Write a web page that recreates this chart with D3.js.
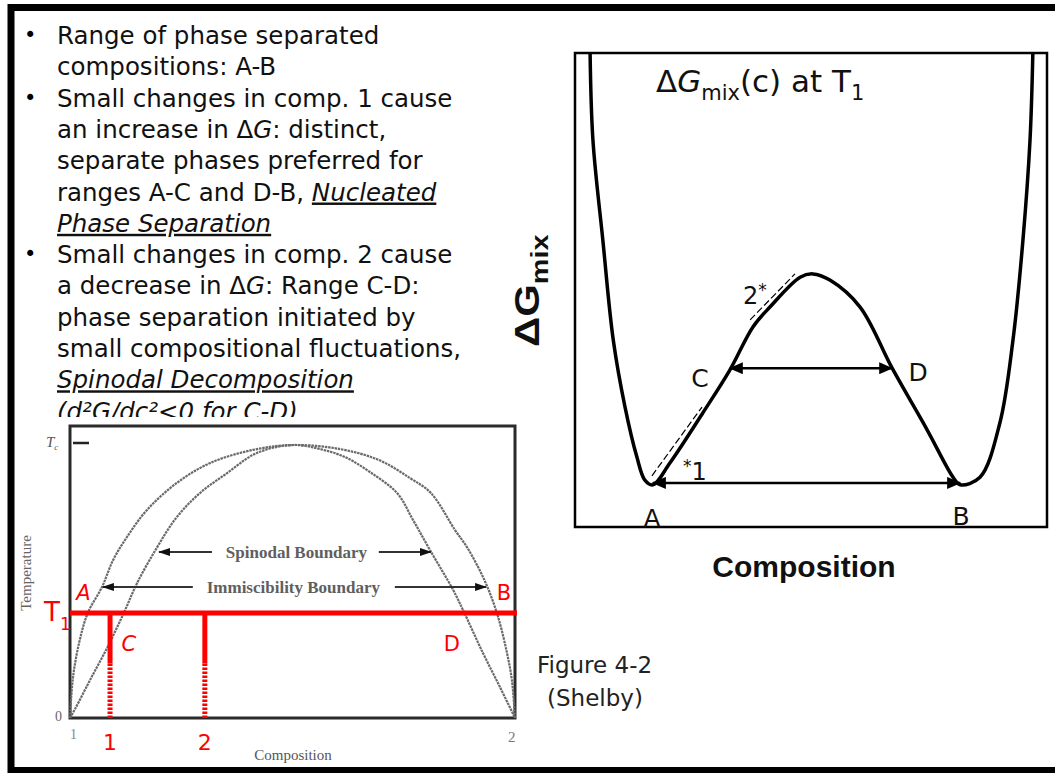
<!DOCTYPE html>
<html>
<head>
<meta charset="utf-8">
<script src="https://cdn.jsdelivr.net/npm/d3@7"></script>
<style>
  body { margin: 0; background: #fff; }
  svg { display: block; }
  .comic { font-family: 'Comic Sans MS', 'DejaVu Sans', sans-serif; }
  .serif { font-family: 'Liberation Serif', 'DejaVu Serif', serif; }
  .arial { font-family: 'Liberation Sans', Arial, sans-serif; }
</style>
</head>
<body>
<svg id="chart"></svg>
<script>
// ---- bullet text (segments: [text, style]) ----
const bulletLines = [
  { bullet: true,  parts: [["Range of phase separated", ""]] },
  { bullet: false, parts: [["compositions: A-B", ""]] },
  { bullet: true,  parts: [["Small changes in comp. 1 cause", ""]] },
  { bullet: false, parts: [["an increase in \u0394", ""], ["G", "i"], [": distinct,", ""]] },
  { bullet: false, parts: [["separate phases preferred for", ""]] },
  { bullet: false, parts: [["ranges A-C and D-B, ", ""], ["Nucleated", "iu"]] },
  { bullet: false, parts: [["Phase Separation", "iu"]] },
  { bullet: true,  parts: [["Small changes in comp. 2 cause", ""]] },
  { bullet: false, parts: [["a decrease in \u0394", ""], ["G", "i"], [": Range C-D:", ""]] },
  { bullet: false, parts: [["phase separation initiated by", ""]] },
  { bullet: false, parts: [["small compositional fluctuations,", ""]] },
  { bullet: false, parts: [["Spinodal Decomposition", "iu"]] },
  { bullet: false, parts: [["(d\u00B2G/dc\u00B2<0 for C-D)", "i"]] }
];

// ---- phase diagram (composition 0..1, temperature 0..Tc=1) ----
const binodal = [
  [0, 0], [0.004, 0.103], [0.009, 0.176], [0.022, 0.286], [0.040, 0.385], [0.072, 0.480],
  [0.097, 0.579], [0.128, 0.663], [0.173, 0.762], [0.240, 0.861], [0.315, 0.934], [0.411, 0.982],
  [0.501, 1.0], [0.607, 0.985], [0.694, 0.945], [0.764, 0.879], [0.811, 0.824], [0.865, 0.689],
  [0.892, 0.626], [0.917, 0.553], [0.939, 0.476], [0.962, 0.370], [0.982, 0.238], [0.993, 0.139], [1, 0]
];
const spinodal = [
  [0, 0], [0.012, 0.035], [0.045, 0.139], [0.085, 0.262], [0.121, 0.385], [0.151, 0.495],
  [0.196, 0.626], [0.240, 0.736], [0.292, 0.824], [0.353, 0.897], [0.420, 0.971], [0.501, 1.0],
  [0.562, 0.985], [0.618, 0.956], [0.674, 0.901], [0.735, 0.824], [0.771, 0.725], [0.809, 0.615],
  [0.861, 0.469], [0.883, 0.396], [0.928, 0.238], [0.966, 0.114], [1, 0]
];
const T1 = 0.385;
const compMarks = [{ label: "1", c: 0.090 }, { label: "2", c: 0.303 }];
const compSolidTo = 0.2;
const boundaryArrows = [
  { name: "Spinodal Boundary", t: 0.608, left: [0.319, 0.200], right: [0.694, 0.811], mid: 0.509 },
  { name: "Immiscibility Boundary", t: 0.480, left: [0.276, 0.074], right: [0.730, 0.935], mid: 0.502 }
];
const phaseLabels = [
  { text: "A", c: 0.030, t: 0.46 }, { text: "C", c: 0.132, t: 0.275 },
  { text: "D", c: 0.858, t: 0.275 }, { text: "B", c: 0.975, t: 0.46 }
];

// ---- free energy curve at T1 (composition 0..1, dG 0..100) ----
const dGcurve = [
  [0.032, 100], [0.038, 81.6], [0.059, 60.5], [0.081, 39.5], [0.106, 25.3], [0.131, 14.8],
  [0.148, 9.9], [0.165, 8.9], [0.201, 13.5], [0.271, 24.1], [0.328, 33.1], [0.377, 42.2],
  [0.413, 46.4], [0.477, 52.7], [0.504, 53.4], [0.540, 52.1], [0.604, 46.4], [0.672, 33.5],
  [0.746, 20.5], [0.801, 10.5], [0.816, 8.9], [0.858, 10.5], [0.900, 21.9], [0.928, 39.5],
  [0.949, 60.5], [0.964, 81.6], [0.970, 100]
];
const dGarrows = [
  { from: 0.165, to: 0.816, g: 9.3 },
  { from: 0.328, to: 0.672, g: 33.5 }
];
const tangents = [
  [[0.163, 10.8], [0.269, 25.3]],
  [[0.371, 43.7], [0.466, 53.4]]
];
const dGlabels = [
  { text: "A", c: 0.163, g: 2.0 }, { text: "B", c: 0.818, g: 2.3 },
  { text: "C", c: 0.265, g: 31.5 }, { text: "D", c: 0.727, g: 32.6 }
];

const width = 1055, height = 773;
const svg = d3.select("#chart").attr("width", width).attr("height", height);

const defs = svg.append("defs");
defs.append("marker")
  .attr("id", "headBig").attr("markerUnits", "userSpaceOnUse")
  .attr("markerWidth", 14).attr("markerHeight", 12)
  .attr("refX", 13).attr("refY", 6).attr("orient", "auto-start-reverse")
  .append("path").attr("d", "M0,0 L14,6 L0,12 Z").attr("fill", "#000");
defs.append("marker")
  .attr("id", "headSmall").attr("markerUnits", "userSpaceOnUse")
  .attr("markerWidth", 12).attr("markerHeight", 8)
  .attr("refX", 11).attr("refY", 4).attr("orient", "auto")
  .append("path").attr("d", "M0,0 L12,4 L0,8 Z").attr("fill", "#111");
defs.append("clipPath").attr("id", "textClip")
  .append("rect").attr("x", 0).attr("y", 0).attr("width", 540).attr("height", 417);

// outer slide frame
svg.append("rect")
  .attr("x", 11).attr("y", 7.5).attr("width", 1080).attr("height", 763)
  .attr("fill", "none").attr("stroke", "#000").attr("stroke-width", 7);

// ---- bullet text ----
const textG = svg.append("g").attr("class", "comic").attr("clip-path", "url(#textClip)");
bulletLines.forEach((line, i) => {
  const y = 44 + i * 31.3;
  if (line.bullet) {
    textG.append("text").attr("x", 24).attr("y", y - 2).attr("font-size", 21).text("\u2022");
  }
  const t = textG.append("text").attr("x", 57).attr("y", y).attr("font-size", 24.5).attr("fill", "#111");
  line.parts.forEach(([s, st]) => {
    const sp = t.append("tspan").text(s);
    if (st.includes("i")) sp.attr("font-style", "italic");
    if (st.includes("u")) sp.attr("text-decoration", "underline");
  });
});

// ---- phase diagram ----
const xs = d3.scaleLinear().domain([0, 1]).range([70, 515]);
const ts = d3.scaleLinear().domain([0, 1]).range([718, 445]);
const pd = svg.append("g");

pd.append("rect").attr("x", 15).attr("y", 417).attr("width", 520).attr("height", 348).attr("fill", "#fff");
pd.append("rect")
  .attr("x", xs(0)).attr("y", 426).attr("width", xs(1) - xs(0)).attr("height", ts(0) - 426)
  .attr("fill", "none").attr("stroke", "#2a2a2a").attr("stroke-width", 3);

const pdLine = d3.line().x(d => xs(d[0])).y(d => ts(d[1])).curve(d3.curveCatmullRom.alpha(0.5));
[binodal, spinodal].forEach(data => {
  pd.append("path").attr("d", pdLine(data))
    .attr("fill", "none").attr("stroke", "#6a6a6a").attr("stroke-width", 2.2)
    .attr("stroke-dasharray", "2.5,0.8");
});

// Tc tick and axis labels
pd.append("line").attr("x1", xs(0) + 3).attr("x2", xs(0) + 19)
  .attr("y1", ts(1) - 2).attr("y2", ts(1) - 2).attr("stroke", "#222").attr("stroke-width", 2.5);
const tc = pd.append("text").attr("class", "serif").attr("x", 46).attr("y", ts(1) + 2)
  .attr("font-size", 15).attr("font-style", "italic").attr("fill", "#555");
tc.append("tspan").text("T");
tc.append("tspan").attr("dy", 3).attr("font-size", 9).text("c");
pd.append("text").attr("class", "serif").attr("x", 55).attr("y", 721).attr("font-size", 14).attr("fill", "#666").text("0");
pd.append("text").attr("class", "serif").attr("x", 70).attr("y", 739).attr("font-size", 14).attr("fill", "#888").text("1");
pd.append("text").attr("class", "serif").attr("x", 508).attr("y", 742).attr("font-size", 15).attr("fill", "#777").text("2");
pd.append("text").attr("class", "serif").attr("x", 293).attr("y", 760).attr("text-anchor", "middle")
  .attr("font-size", 15).attr("fill", "#555").text("Composition");
pd.append("text").attr("class", "serif")
  .attr("transform", "translate(31,573) rotate(-90)").attr("text-anchor", "middle")
  .attr("font-size", 15).attr("fill", "#666").text("Temperature");

// boundary arrows
boundaryArrows.forEach(a => {
  [a.left, a.right].forEach(seg => {
    pd.append("line")
      .attr("x1", xs(seg[0])).attr("x2", xs(seg[1])).attr("y1", ts(a.t)).attr("y2", ts(a.t))
      .attr("stroke", "#333").attr("stroke-width", 2).attr("marker-end", "url(#headSmall)");
  });
  pd.append("text").attr("class", "serif")
    .attr("x", xs(a.mid)).attr("y", ts(a.t) + 6).attr("text-anchor", "middle")
    .attr("font-size", 17).attr("fill", "#444").attr("font-weight", "bold").attr("opacity", 0.85)
    .text(a.name);
});

// red T1 line and compositions
pd.append("line").attr("x1", xs(0)).attr("x2", xs(1) + 2).attr("y1", ts(T1)).attr("y2", ts(T1))
  .attr("stroke", "#ff0000").attr("stroke-width", 5);
compMarks.forEach(m => {
  pd.append("line").attr("x1", xs(m.c)).attr("x2", xs(m.c)).attr("y1", ts(T1)).attr("y2", ts(compSolidTo))
    .attr("stroke", "#ff0000").attr("stroke-width", 5);
  pd.append("line").attr("x1", xs(m.c)).attr("x2", xs(m.c)).attr("y1", ts(compSolidTo)).attr("y2", ts(0))
    .attr("stroke", "#ff0000").attr("stroke-width", 5).attr("stroke-dasharray", "2.5,1.5");
  pd.append("text").attr("class", "comic").attr("x", xs(m.c)).attr("y", 750).attr("text-anchor", "middle")
    .attr("font-size", 22).attr("fill", "#ff0000").text(m.label);
});
const t1 = pd.append("text").attr("class", "comic").attr("x", 44).attr("y", ts(T1) + 8)
  .attr("font-size", 26).attr("fill", "#ff0000");
t1.append("tspan").text("T");
t1.append("tspan").attr("dy", 9).attr("font-size", 17).text("1");
phaseLabels.forEach(l => {
  pd.append("text").attr("class", "comic").attr("x", xs(l.c)).attr("y", ts(l.t) + 8)
    .attr("text-anchor", "middle").attr("font-size", 21).attr("fill", "#ff0000")
    .attr("font-style", l.text === "C" || l.text === "A" ? "italic" : "normal").text(l.text);
});

svg.append("text").attr("class", "comic").attr("x", 537).attr("y", 673).attr("font-size", 23).attr("fill", "#222").text("Figure 4-2");
svg.append("text").attr("class", "comic").attr("x", 547).attr("y", 706).attr("font-size", 23).attr("fill", "#222").text("(Shelby)");

// ---- free energy of mixing panel ----
const xr = d3.scaleLinear().domain([0, 1]).range([575, 1047]);
const yr = d3.scaleLinear().domain([0, 100]).range([527, 53]);
const fe = svg.append("g");

fe.append("rect").attr("x", xr(0)).attr("y", yr(100)).attr("width", xr(1) - xr(0)).attr("height", yr(0) - yr(100))
  .attr("fill", "none").attr("stroke", "#000").attr("stroke-width", 2.5);

const feLine = d3.line().x(d => xr(d[0])).y(d => yr(d[1])).curve(d3.curveCatmullRom.alpha(0.5));
fe.append("path").attr("d", feLine(dGcurve))
  .attr("fill", "none").attr("stroke", "#000").attr("stroke-width", 3.5);

tangents.forEach(tg => {
  fe.append("line")
    .attr("x1", xr(tg[0][0])).attr("y1", yr(tg[0][1])).attr("x2", xr(tg[1][0])).attr("y2", yr(tg[1][1]))
    .attr("stroke", "#000").attr("stroke-width", 1.2).attr("stroke-dasharray", "7,3");
});

dGarrows.forEach(a => {
  fe.append("line").attr("x1", xr(a.from)).attr("x2", xr(a.to)).attr("y1", yr(a.g)).attr("y2", yr(a.g))
    .attr("stroke", "#000").attr("stroke-width", 2.5)
    .attr("marker-start", "url(#headBig)").attr("marker-end", "url(#headBig)");
});

dGlabels.forEach(l => {
  fe.append("text").attr("class", "comic").attr("x", xr(l.c)).attr("y", yr(l.g) + 9)
    .attr("text-anchor", "middle").attr("font-size", 25).attr("fill", "#111").text(l.text);
});
const star2 = fe.append("text").attr("class", "comic").attr("x", 743).attr("y", 304).attr("font-size", 24).attr("fill", "#111");
star2.append("tspan").text("2");
star2.append("tspan").attr("dy", -8).attr("font-size", 17).text("*");
const star1 = fe.append("text").attr("class", "comic").attr("x", 683).attr("y", 480).attr("font-size", 24).attr("fill", "#111");
star1.append("tspan").attr("dy", -8).attr("font-size", 17).text("*");
star1.append("tspan").attr("dy", 8).text("1");

const title = fe.append("text").attr("class", "comic").attr("x", 656).attr("y", 92).attr("font-size", 31).attr("fill", "#111");
title.append("tspan").text("\u0394");
title.append("tspan").attr("font-style", "italic").text("G");
title.append("tspan").attr("dy", 8).attr("font-size", 21).text("mix");
title.append("tspan").attr("dy", -8).text("(c) at T");
title.append("tspan").attr("dy", 8).attr("font-size", 21).text("1");

const ylab = svg.append("text").attr("class", "arial")
  .attr("transform", "translate(539,347) rotate(-90) scale(1.2,1)")
  .attr("font-size", 35).attr("font-weight", "bold").attr("fill", "#111");
ylab.append("tspan").text("\u0394G");
ylab.append("tspan").attr("dy", 9).attr("font-size", 24).text("mix");

svg.append("text").attr("class", "arial").attr("x", 804).attr("y", 577).attr("text-anchor", "middle")
  .attr("font-size", 30).attr("font-weight", "bold").attr("fill", "#111").text("Composition");
</script>
</body>
</html>
